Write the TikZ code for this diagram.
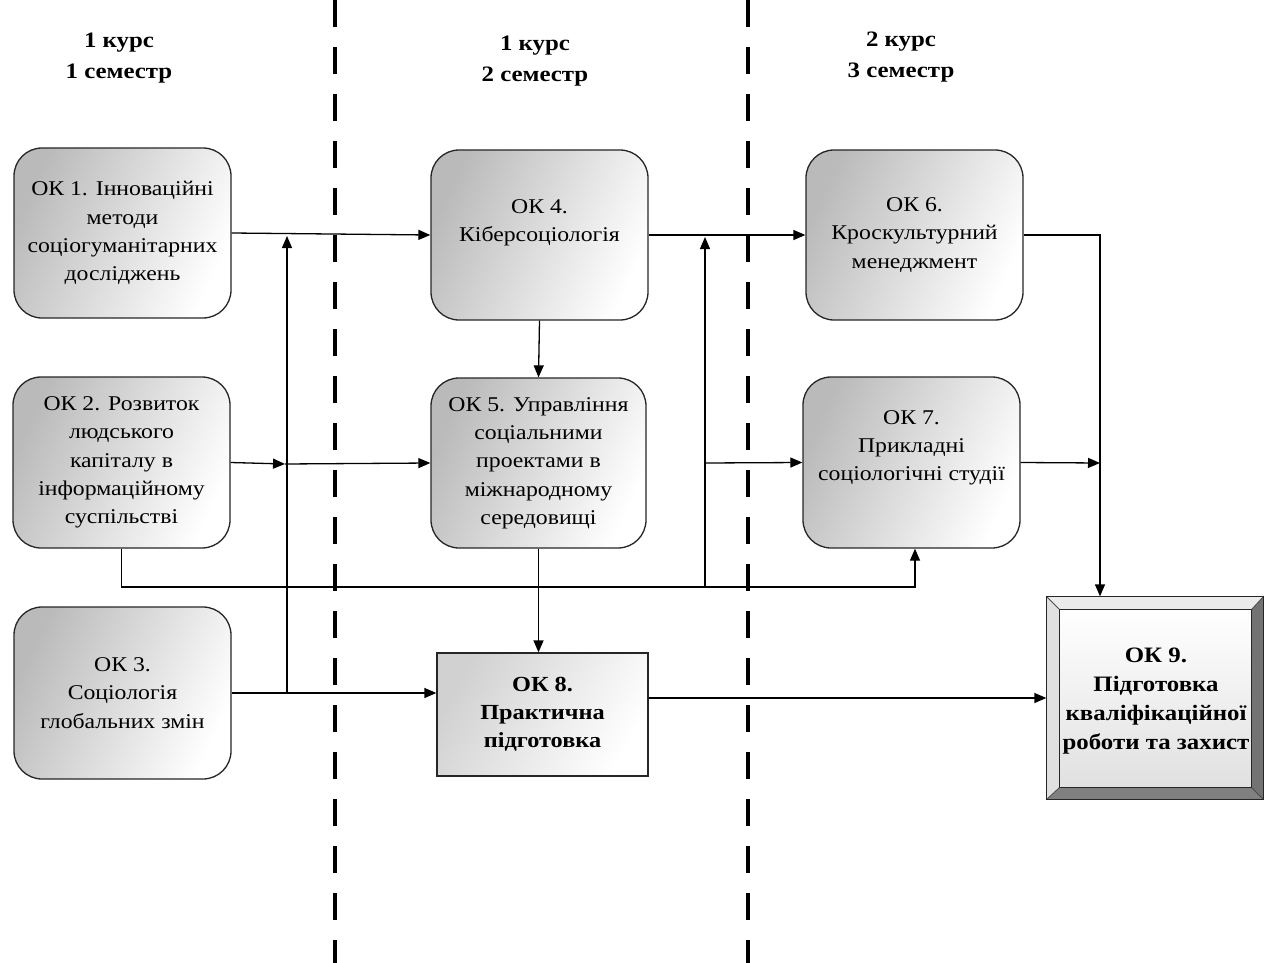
\documentclass[tikz,border=0pt]{standalone}
\usepackage{fontspec}
\setmainfont[FakeStretch=1.13]{Liberation Serif}
\usetikzlibrary{arrows.meta,calc}
\tikzset{
  rbox/.style={draw=black!85, line width=1.3pt, rounded corners=28pt,
    left color=black!27, right color=white, shading angle=65,
    minimum width=217pt, minimum height=170pt, align=center, inner sep=0pt,
    font=\fontsize{21}{28.3}\selectfont},
  txt/.style={align=center, inner sep=0pt, font=\fontsize{21}{28.3}\selectfont},
  hdr/.style={align=center, inner sep=0pt, font=\bfseries\fontsize{22}{31}\selectfont},
  arr/.style={line width=1.3pt, -{Triangle[length=12pt,width=10pt]}},
  sep/.style={line width=4.5pt, dash pattern=on 27pt off 20pt}
}
\begin{document}
\begin{tikzpicture}[x=1pt,y=-1pt]
\useasboundingbox (0,0) rectangle (1267,963);
% separators
\coordinate (s1t) at (335,0); \coordinate (s1b) at (335,963);
\coordinate (s2t) at (748,0); \coordinate (s2b) at (748,963);
\draw[sep] (s1t) -- (s1b);
\draw[sep] (s2t) -- (s2b);
% headers
\node[hdr] (h1) at (119,58) {1 курс\\1 семестр};
\node[hdr] (h2) at (535,61) {1 курс\\2 семестр};
\node[hdr] (h3) at (901,57) {2 курс\\3 семестр};
% boxes
\node[rbox] (ok1) at (122.5,233) {ОК 1. Інноваційні\\методи\\соціогуманітарних\\досліджень};
\node[rbox, minimum width=217pt, minimum height=171pt] (ok2) at (121.5,462.5) {ОК 2. Розвиток\\людського\\капіталу в\\інформаційному\\суспільстві};
\node[rbox, minimum height=172pt] (ok3) at (122.5,693) {ОК 3.\\Соціологія\\глобальних змін};
\node[rbox] (ok4) at (539.5,235) {};
\node[txt] (ok4t) at (539.5,223) {ОК 4.\\Кіберсоціологія};
\node[rbox, minimum width=215pt] (ok5) at (538.5,463) {ОК 5. Управління\\соціальними\\проектами в\\міжнародному\\середовищі};
\node[rbox] (ok6) at (914.5,235) {ОК 6.\\Кроскультурний\\менеджмент};
\node[rbox, minimum height=171pt] (ok7) at (911.5,462.5) {};
\node[txt] (ok7t) at (911.5,448) {ОК 7.\\Прикладні\\соціологічні студії};
\node[draw=black!85, line width=1.3pt, left color=black!18, right color=white, shading angle=60,
  minimum width=211pt, minimum height=123pt, align=center, inner sep=0pt,
  font=\bfseries\fontsize{21.5}{28}\selectfont] (ok8) at (542.5,714.5) {ОК 8.\\Практична\\підготовка};
% OK9 bevelled box
\node[draw=black!85, line width=1.3pt, minimum width=216pt, minimum height=202pt, inner sep=0pt] (ok9) at (1155,698) {};
\coordinate (i1) at ($(ok9.north west)+(13,13)$);
\coordinate (i2) at ($(ok9.north east)+(-12,13)$);
\coordinate (i3) at ($(ok9.south east)+(-12,-12)$);
\coordinate (i4) at ($(ok9.south west)+(13,-12)$);
\fill[black!8] (ok9.north west) -- (ok9.north east) -- (i2) -- (i1) -- cycle;
\fill[black!12] (ok9.north west) -- (i1) -- (i4) -- (ok9.south west) -- cycle;
\fill[black!55] (ok9.north east) -- (ok9.south east) -- (i3) -- (i2) -- cycle;
\fill[black!50] (ok9.south west) -- (i4) -- (i3) -- (ok9.south east) -- cycle;
\shade[top color=white, bottom color=black!12] (i1) rectangle (i3);
\draw[black!85, line width=1.1pt] (i1) rectangle (i3);
\draw[black!70, line width=0.8pt] (ok9.north west) -- (i1) (ok9.north east) -- (i2) (ok9.south east) -- (i3) (ok9.south west) -- (i4);
\draw[black!85, line width=1.3pt] (ok9.north west) rectangle (ok9.south east);
\node[txt, font=\bfseries\fontsize{22}{29}\selectfont] (ok9t) at (1156,701) {ОК 9.\\Підготовка\\кваліфікаційної\\роботи та захист};
% junction coordinates
\coordinate (v1b) at (287,693);
\coordinate (v1t) at (287,236);
\coordinate (j2) at (285,464);
\coordinate (v2b) at (705,587);
\coordinate (v2t) at (705,237);
\coordinate (j7) at (705,463);
\coordinate (c1) at (915,587);
\coordinate (c2) at (1100,235);
\coordinate (c3) at (1100,463);
% connectors
\draw[arr] (ok1.east) -- (ok4.west);
\draw[arr] (v1b) -- (v1t);
\draw[arr] (ok3.east) -- (ok3.east -| ok8.west);
\draw[arr] (ok2.east) -- (j2);
\draw[arr] (j2) -- (ok5.west);
\draw[arr] (ok4.south) -- (ok5.north);
\draw[arr] (ok5.south) -- (ok5.south |- ok8.north);
\draw[arr] (ok4.east) -- (ok6.west);
\draw[arr] (v2b) -- (v2t);
\draw[arr] (j7) -- (ok7.west);
\draw[arr] (ok2.south) |- (c1) -- (c1 |- ok7.south);
\draw[arr] (ok6.east) -- (c2) -- (c2 |- ok9.north);
\draw[arr] (ok7.east) -- (c3);
\draw[arr] (ok9.west -| ok8.east) -- (ok9.west);
\end{tikzpicture}
\end{document}
